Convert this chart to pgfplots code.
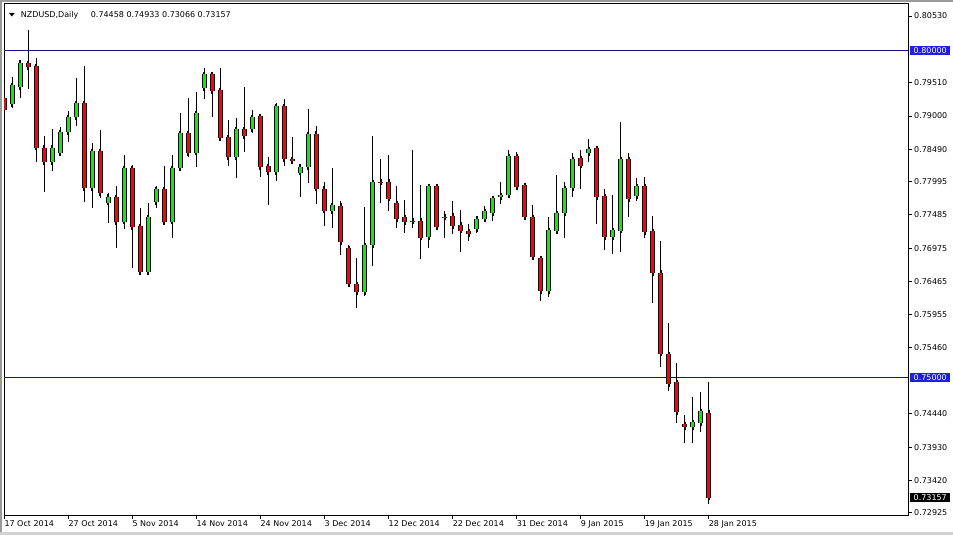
\documentclass[border=0pt]{standalone}
\usepackage{fontspec}
\setmainfont{DejaVu Sans}
\usepackage{pgfplots}
\usepackage{pgfplotstable}
\pgfplotsset{compat=1.18}

\definecolor{bull}{RGB}{36,218,36}
\definecolor{bear}{RGB}{214,18,18}
\definecolor{levline}{RGB}{20,20,140}
\definecolor{levbox}{RGB}{30,30,228}
\newcommand{\lbl}{\fontsize{8bp}{9.6bp}\selectfont}

% daily NZDUSD candles, i = bar index (17 Oct 2014 = 0)
\pgfplotstableread{
i o h l c
0 0.79276 0.79674 0.79062 0.79092
1 0.79184 0.79597 0.79123 0.79475
2 0.79444 0.79842 0.79276 0.79812
3 0.79812 0.80317 0.79414 0.79751
4 0.79766 0.79888 0.78296 0.78511
5 0.78511 0.78694 0.77837 0.78296
6 0.78296 0.78801 0.78158 0.78511
7 0.78434 0.78832 0.78419 0.78755
8 0.78755 0.79077 0.78602 0.78985
9 0.78985 0.79582 0.78847 0.79199
10 0.79199 0.79766 0.77684 0.77898
11 0.77898 0.78587 0.77592 0.78465
12 0.78465 0.78786 0.77745 0.77822
13 0.77669 0.77822 0.77362 0.77760
14 0.77760 0.77929 0.76980 0.77378
15 0.77378 0.78403 0.77270 0.78204
16 0.78204 0.78250 0.76673 0.77301
17 0.77316 0.77592 0.76597 0.76612
18 0.76612 0.77669 0.76597 0.77454
19 0.77684 0.77929 0.77592 0.77883
20 0.77883 0.78235 0.77332 0.77378
21 0.77378 0.78403 0.77133 0.78204
22 0.78204 0.79046 0.78189 0.78740
23 0.78740 0.79276 0.78373 0.78434
24 0.78434 0.79368 0.78220 0.79046
25 0.79429 0.79735 0.79261 0.79643
26 0.79643 0.79659 0.78985 0.79383
27 0.79398 0.79735 0.78618 0.78664
28 0.78679 0.78939 0.78235 0.78373
29 0.78373 0.78970 0.78051 0.78801
30 0.78801 0.79444 0.78449 0.78694
31 0.78801 0.79092 0.78740 0.78985
32 0.79000 0.79016 0.78067 0.78220
33 0.78235 0.78373 0.77638 0.78143
34 0.78143 0.79199 0.78005 0.79153
35 0.79153 0.79261 0.78235 0.78342
36 0.78342 0.78679 0.78281 0.78312
37 0.78128 0.78250 0.77760 0.78220
38 0.78220 0.79108 0.77975 0.78725
39 0.78725 0.78847 0.77653 0.77883
40 0.77883 0.77990 0.77316 0.77546
41 0.77546 0.78204 0.77286 0.77638
42 0.77623 0.77699 0.76872 0.77071
43 0.76980 0.77025 0.76398 0.76428
44 0.76428 0.76826 0.76061 0.76306
45 0.76306 0.77607 0.76245 0.77025
46 0.77025 0.78694 0.76704 0.77990
47 0.77992 0.78342 0.77669 0.77990
48 0.77990 0.78403 0.77546 0.77730
49 0.77669 0.77929 0.77286 0.77424
50 0.77454 0.77714 0.77209 0.77378
51 0.77395 0.78480 0.77286 0.77393
52 0.77393 0.77944 0.76811 0.77133
53 0.77148 0.77944 0.76980 0.77929
54 0.77929 0.77929 0.77286 0.77301
55 0.77456 0.77546 0.77133 0.77454
56 0.77470 0.77699 0.77194 0.77316
57 0.77332 0.77561 0.76918 0.77240
58 0.77240 0.77347 0.77087 0.77194
59 0.77270 0.77424 0.77209 0.77424
60 0.77424 0.77623 0.77378 0.77546
61 0.77515 0.77760 0.77393 0.77745
62 0.77760 0.77990 0.77653 0.77791
63 0.77791 0.78480 0.77745 0.78388
64 0.78388 0.78449 0.77898 0.77913
65 0.77944 0.77975 0.77424 0.77454
66 0.77454 0.77638 0.76811 0.76842
67 0.76826 0.76842 0.76168 0.76321
68 0.76321 0.77454 0.76229 0.77255
69 0.77240 0.78097 0.77209 0.77515
70 0.77515 0.77990 0.77133 0.77898
71 0.77898 0.78434 0.77760 0.78342
72 0.78357 0.78480 0.77883 0.78235
73 0.78434 0.78648 0.78296 0.78495
74 0.78511 0.78526 0.77347 0.77760
75 0.77776 0.77883 0.76949 0.77148
76 0.77148 0.77791 0.76888 0.77255
77 0.77240 0.78909 0.76918 0.78342
78 0.78342 0.78434 0.77454 0.77730
79 0.77776 0.78051 0.77699 0.77929
80 0.77929 0.78067 0.77133 0.77225
81 0.77240 0.77470 0.76138 0.76597
82 0.76597 0.77087 0.75158 0.75357
83 0.75357 0.75831 0.74790 0.74898
84 0.74928 0.75219 0.74300 0.74469
85 0.74285 0.74423 0.73994 0.74239
86 0.74239 0.74698 0.73994 0.74316
87 0.74300 0.74775 0.74163 0.74484
88 0.74458 0.74933 0.73066 0.73157
}\ohlc

\pgfplotsset{
  wick/.style={draw=none, mark=none, forget plot,
    error bars/.cd, y dir=both, y explicit, error mark=none,
    error bar style={draw=black, line width=1bp}, /pgfplots/.cd},
  bodyedge/.style={draw=none, mark=none, forget plot,
    error bars/.cd, y dir=both, y explicit, error mark=-,
    error bar style={draw=black, line width=5bp},
    error mark options={draw=black, line width=2bp, mark size=2.5bp}, /pgfplots/.cd},
  bodyfill/.style={draw=none, mark=none, forget plot,
    error bars/.cd, y dir=both, y explicit, error mark=none,
    error bar style={draw=#1, line width=3bp}, /pgfplots/.cd},
  up/.style={restrict expr to domain={\thisrow{c}-\thisrow{o}}{0:1}},
  down/.style={restrict expr to domain={\thisrow{c}-\thisrow{o}}{-1:0}},
}

\begin{document}
\begin{tikzpicture}
\useasboundingbox (0,0) rectangle (953bp,-535bp);
\fill[white] (0,0) rectangle (953bp,-535bp);
\begin{axis}[
  at={(4bp,-515bp)}, anchor=south west,
  scale only axis, width=904bp, height=511bp,
  xmin=-0.04, xmax=112.9, ymin=0.72892, ymax=0.80715,
  axis line style={black, line width=1bp},
  xtick={0,8,...,88},
  xticklabels={17 Oct 2014, 27 Oct 2014, 5 Nov 2014, 14 Nov 2014, 24 Nov 2014,
    3 Dec 2014, 12 Dec 2014, 22 Dec 2014, 31 Dec 2014, 9 Jan 2015,
    19 Jan 2015, 28 Jan 2015},
  ytick={0.80530,0.79510,0.79000,0.78490,0.77995,0.77485,0.76975,0.76465,
    0.75955,0.75460,0.74440,0.73930,0.73420,0.72925},
  yticklabels={0.80530,0.79510,0.79000,0.78490,0.77995,0.77485,0.76975,0.76465,
    0.75955,0.75460,0.74440,0.73930,0.73420,0.72925},
  xtick pos=left, ytick pos=right, yticklabel pos=right,
  tick align=outside, major tick length=4bp,
  tick style={black, line width=1bp},
  ticklabel style={font=\lbl, text=black},
  xticklabel style={anchor=north west, inner sep=0pt, yshift=-1bp},
  yticklabel style={anchor=west, inner sep=0pt, xshift=2bp},
]
\addplot[levline, line width=1bp, forget plot] coordinates {(-1,0.80) (114,0.80)};
\addplot[levline, line width=1bp, forget plot] coordinates {(-1,0.75) (114,0.75)};

\addplot[wick] table[x=i, y expr=(\thisrow{h}+\thisrow{l})/2,
  y error expr=(\thisrow{h}-\thisrow{l})/2] {\ohlc};

\addplot[up, bodyedge] table[x=i, y expr=(\thisrow{o}+\thisrow{c})/2,
  y error expr=abs(\thisrow{c}-\thisrow{o})/2] {\ohlc};
\addplot[up, bodyfill=bull] table[x=i, y expr=(\thisrow{o}+\thisrow{c})/2,
  y error expr=abs(\thisrow{c}-\thisrow{o})/2] {\ohlc};

\addplot[down, bodyedge] table[x=i, y expr=(\thisrow{o}+\thisrow{c})/2,
  y error expr=abs(\thisrow{c}-\thisrow{o})/2] {\ohlc};
\addplot[down, bodyfill=bear] table[x=i, y expr=(\thisrow{o}+\thisrow{c})/2,
  y error expr=abs(\thisrow{c}-\thisrow{o})/2] {\ohlc};

\coordinate (p80) at (axis cs:112.9,0.80);
\coordinate (p75) at (axis cs:112.9,0.75);
\coordinate (plast) at (axis cs:112.9,0.73157);
\end{axis}

% price labels on the right scale
\node[fill=levbox, text=white, font=\lbl, anchor=west, inner xsep=3.5bp,
  inner ysep=1bp, minimum height=9.5bp] at ([xshift=2bp]p80) {0.80000};
\node[fill=levbox, text=white, font=\lbl, anchor=west, inner xsep=3.5bp,
  inner ysep=1bp, minimum height=9.5bp] at ([xshift=2bp]p75) {0.75000};
\node[fill=black, text=white, font=\lbl, anchor=west, inner xsep=3.5bp,
  inner ysep=1bp, minimum height=9.5bp] at ([xshift=2bp]plast) {0.73157};

% header
\node[font=\lbl, anchor=base, inner sep=0pt] at (12bp,-16bp) {\scalebox{1}[0.6]{▼}};
\node[font=\lbl, anchor=base west, inner sep=0pt] at (20.7bp,-17bp) {NZDUSD,Daily};
\node[font=\lbl, anchor=base west, inner sep=0pt] at (90.7bp,-17bp)
  {0.74458 0.74933 0.73066 0.73157};

% window edges
\draw[black!40, line width=1.5bp] (0,-0.75bp) -- (953bp,-0.75bp);
\draw[black!40, line width=1.5bp] (0.75bp,0) -- (0.75bp,-535bp);
\draw[black!18, line width=3bp] (0,-533.5bp) -- (953bp,-533.5bp);
\end{tikzpicture}
\end{document}
